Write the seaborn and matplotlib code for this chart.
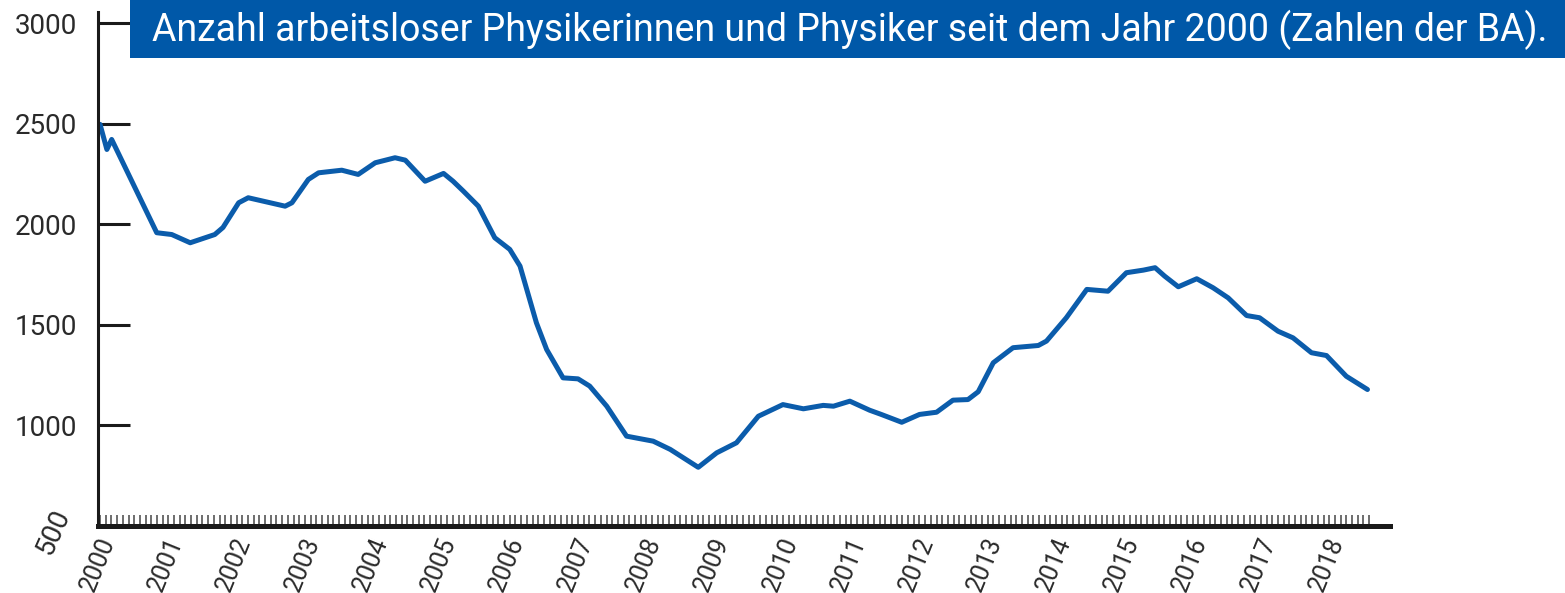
import numpy as np
import pandas as pd
import matplotlib
matplotlib.use("Agg")
import matplotlib.pyplot as plt
from matplotlib.patches import Rectangle
from matplotlib.transforms import ScaledTranslation
import seaborn as sns

# Arbeitslose Physiker/innen (BA); x in decimal years
jahr = [2000.00, 2000.10, 2000.17, 2000.83, 2001.05, 2001.32, 2001.68, 2001.80,
        2002.03, 2002.17, 2002.71, 2002.81, 2003.05, 2003.20, 2003.54, 2003.78,
        2004.03, 2004.32, 2004.47, 2004.76, 2005.03, 2005.17, 2005.32, 2005.54,
        2005.78, 2006.00, 2006.15, 2006.39, 2006.54, 2006.78, 2007.00, 2007.17,
        2007.42, 2007.71, 2008.10, 2008.35, 2008.76, 2009.03, 2009.32, 2009.64,
        2010.00, 2010.30, 2010.59, 2010.74, 2010.98, 2011.27, 2011.44, 2011.74,
        2012.00, 2012.25, 2012.49, 2012.71, 2012.86, 2013.08, 2013.37, 2013.74,
        2013.86, 2014.15, 2014.45, 2014.76, 2015.03, 2015.28, 2015.45, 2015.59,
        2015.79, 2016.06, 2016.30, 2016.52, 2016.79, 2016.98, 2017.25, 2017.47,
        2017.74, 2017.96, 2018.25, 2018.56]
arbeitslose = [2498, 2373, 2423, 1959, 1950, 1909, 1950, 1985,
               2108, 2133, 2091, 2108, 2224, 2257, 2270, 2249,
               2307, 2332, 2320, 2215, 2254, 2215, 2166, 2091,
               1934, 1876, 1793, 1511, 1378, 1237, 1232, 1196,
               1096, 947, 922, 881, 792, 864, 914, 1046,
               1104, 1083, 1100, 1096, 1121, 1076, 1055, 1016,
               1055, 1066, 1126, 1129, 1168, 1312, 1387, 1398,
               1420, 1536, 1677, 1668, 1760, 1773, 1785, 1743,
               1690, 1730, 1685, 1635, 1547, 1536, 1469, 1436,
               1362, 1348, 1245, 1179]
jahre = list(range(2000, 2019))
y_ticks = [500, 1000, 1500, 2000, 2500, 3000]
titel = "Anzahl arbeitsloser Physikerinnen und Physiker seit dem Jahr 2000 (Zahlen der BA)."

df = pd.DataFrame({"Jahr": jahr, "Arbeitslose": arbeitslose})

sns.set_style("white")
plt.rcParams["font.family"] = ["Roboto", "DejaVu Sans"]

W, H = 1565, 593
fig = plt.figure(figsize=(W / 100, H / 100), dpi=100)
ax = fig.add_axes([98 / W, (H - 526) / H, (1390 - 98) / W, (526 - 12) / H])

sns.lineplot(data=df, x="Jahr", y="Arbeitslose", ax=ax, color="#0b5cab",
             linewidth=3.6, solid_joinstyle="round", solid_capstyle="round")

ax.set_xlim(1999.97, 2018.89)
ax.set_ylim(500, 3057)
ax.set_xlabel("")
ax.set_ylabel("")

for side in ["top", "right"]:
    ax.spines[side].set_visible(False)
ax.spines["left"].set_linewidth(2.2)
ax.spines["left"].set_color("#1a1a1a")
ax.spines["bottom"].set_linewidth(3.6)
ax.spines["bottom"].set_color("#1a1a1a")

ax.set_yticks(y_ticks)
ax.set_yticklabels([str(v) for v in y_ticks])
ax.tick_params(axis="y", left=True, direction="in", length=23, width=2.2,
               color="#1a1a1a", pad=15, labelsize=20, labelcolor="#2a2a2a")
lab500 = ax.get_yticklabels()[0]
lab500.set_rotation(66)
lab500.set_va("center")
lab500.set_transform(lab500.get_transform()
                     + ScaledTranslation(-0.02, -0.06, fig.dpi_scale_trans))

ax.set_xticks(jahre)
ax.set_xticklabels([str(j) for j in jahre])
ax.set_xticks(np.arange(2000, 2018.6, 1 / 12), minor=True)
ax.tick_params(axis="x", which="both", bottom=True, direction="in", length=8,
               width=1.2, color="#555555", pad=9, labelsize=18,
               labelcolor="#2a2a2a")
for lab in ax.get_xticklabels():
    lab.set_rotation(68)
    lab.set_ha("right")
    lab.set_va("center")
    lab.set_rotation_mode("anchor")
    lab.set_transform(lab.get_transform() + ScaledTranslation(0.08, 0, fig.dpi_scale_trans))

# blue title box
fig.patches.append(Rectangle((130 / W, (H - 58) / H), 1 - 130 / W, 58 / H,
                             transform=fig.transFigure, facecolor="#0058a8",
                             edgecolor="none", zorder=5))
fig.text(152 / W, (H - 30) / H, titel, color="white", fontsize=27,
         va="center", ha="left", zorder=6)

fig.savefig("out.png", dpi=100)
